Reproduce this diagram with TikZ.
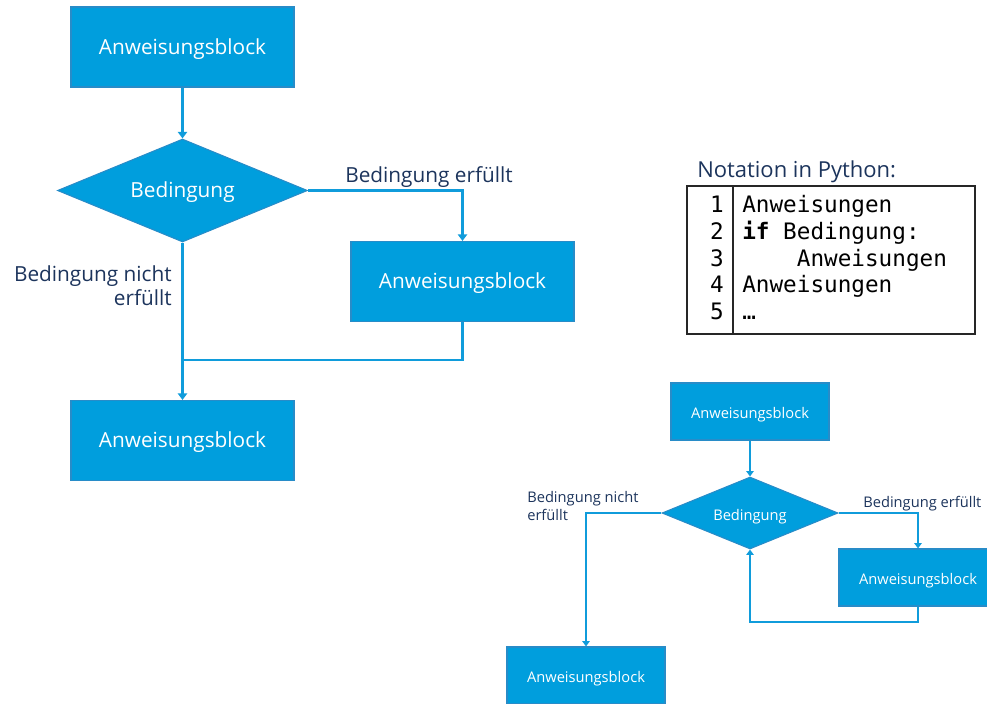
\documentclass[tikz,border=0pt]{standalone}
\usepackage{fontspec}
\setmainfont{Open Sans}
\setmonofont{DejaVu Sans Mono}
\usetikzlibrary{shapes.geometric,arrows.meta}
\definecolor{fblue}{RGB}{0,158,221}
\definecolor{bblue}{RGB}{40,140,200}
\definecolor{lblue}{RGB}{16,156,219}
\definecolor{navy}{RGB}{28,52,92}
\tikzset{
  blk/.style={rectangle,fill=fblue,draw=bblue,line width=0.8pt,text=white,inner sep=0pt,text height=1.3em,text depth=0.24em},
  bigblk/.style={blk,minimum width=167.25pt,minimum height=60pt,font=\fontsize{15.6}{18}\selectfont},
  smlblk/.style={blk,minimum width=118.5pt,minimum height=42.75pt,font=\fontsize{11}{13}\selectfont},
  dia/.style={diamond,fill=fblue,draw=bblue,line width=0.8pt,text=white,inner sep=0pt,text height=1.3em,text depth=0.24em},
  bigdia/.style={dia,aspect=2.43,minimum width=187.5pt,minimum height=77.25pt,font=\fontsize{15.6}{18}\selectfont},
  smldia/.style={dia,aspect=2.44,minimum width=132pt,minimum height=54pt,font=\fontsize{11}{13}\selectfont},
  bigline/.style={draw=lblue,line width=2.2pt,-{Triangle[width=7pt,length=5pt]}},
  bigplain/.style={draw=lblue,line width=2.2pt},
  smlline/.style={draw=lblue,line width=1.6pt,-{Triangle[width=5.5pt,length=4pt]}},
  smlplain/.style={draw=lblue,line width=1.6pt},
  biglab/.style={text=navy,font=\fontsize{15.6}{18.5}\selectfont,inner sep=0pt},
  smllab/.style={text=navy,font=\fontsize{11}{13.5}\selectfont,inner sep=0pt},
  code/.style={font=\fontsize{17}{20}\selectfont\ttfamily,inner sep=0pt,text height=12.5pt,text depth=3.5pt},
}
\begin{document}
\begin{tikzpicture}[x=0.75pt,y=-0.75pt]
\useasboundingbox (0,0) rectangle (987,703);
% ---- large diagram
\node[bigblk] (A1) at (182.5,47) {Anweisungsblock};
\node[bigdia] (D1) at (182.5,190.5) {Bedingung};
\node[bigblk] (A2) at (462.5,281.5) {Anweisungsblock};
\node[bigblk] (A3) at (182.5,440.5) {Anweisungsblock};
\coordinate (J1) at (182.5,360);
\draw[bigline] (A1.south) -- (D1.north);
\draw[bigline] (D1.east) -| (A2.north);
\draw[bigline] (D1.south) -- (A3.north);
\draw[bigplain] (A2.south) |- (J1);
\node[biglab,anchor=base west] (L1) at (345,182) {Bedingung erfüllt};
\node[biglab,anchor=north east,align=right] (L2) at (172,265) {Bedingung nicht\\erfüllt};
% ---- code
\node[text=navy,font=\fontsize{16.5}{19}\selectfont,anchor=mid west,inner sep=0pt] (T) at (697,174) {Notation in Python:};
\node[draw=black!85,line width=1.2pt,minimum width=216pt,minimum height=111pt,inner sep=0pt] (C) at (831,260) {};
\coordinate (Ct) at (733,186);
\coordinate (Cb) at (733,334);
\draw[black!85,line width=1.2pt] (Ct) -- (Cb);
\foreach \n/\y in {1/206,2/233,3/260,4/286,5/313}{
  \node[code,anchor=east] (N\n) at (724,\y) {\n};
}
\node[code,anchor=west] (K1) at (742,206) {Anweisungen};
\node[code,anchor=west] (K2) at (742,233) {\textbf{if} Bedingung:};
\node[code,anchor=west] (K3) at (742,260) {\phantom{xxxx}Anweisungen};
\node[code,anchor=west] (K4) at (742,286) {Anweisungen};
\node[code,anchor=west] (K5) at (742,313) {…};
% ---- small diagram
\node[smlblk] (B1) at (750,411.5) {Anweisungsblock};
\node[smldia] (D2) at (750,513) {Bedingung};
\node[smlblk] (B2) at (918,577.5) {Anweisungsblock};
\node[smlblk] (B3) at (586,675.5) {Anweisungsblock};
\coordinate (J2) at (918,622);
\coordinate (J3) at (750,622);
\draw[smlline] (B1.south) -- (D2.north);
\draw[smlline] (D2.east) -| (B2.north);
\draw[smlline] (D2.west) -| (B3.north);
\draw[smlline] (B2.south) -- (J2) -- (J3) -- (D2.south);
\node[smllab,anchor=base west] (L3) at (863,507) {Bedingung erfüllt};
\node[smllab,anchor=north west,align=left] (L4) at (527,491.5) {Bedingung nicht\\erfüllt};
\end{tikzpicture}
\end{document}
